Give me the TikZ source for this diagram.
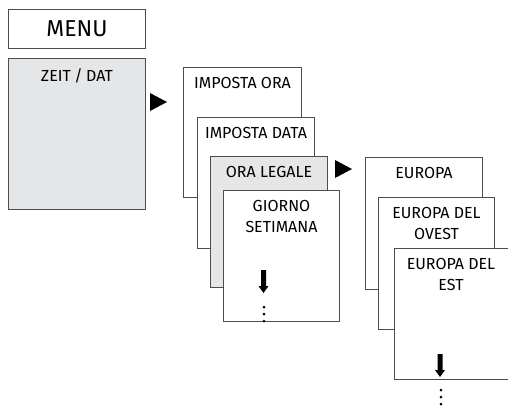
\documentclass[tikz,border=0pt]{standalone}
\usepackage{fontspec}
\setmainfont{Fira Sans}
\usetikzlibrary{calc}
\definecolor{panel}{HTML}{E5E6E8}
\tikzset{
	card/.style={draw=black!70, line width=1pt, fill=white, anchor=north west, inner sep=0pt},
	greycard/.style={card, fill=panel},
	caption/.style={anchor=north, align=center, inner sep=0pt, font=\fontsize{16}{21}\selectfont},
	dot/.style={circle, fill=black, inner sep=0pt, minimum size=3pt},
}
% block arrow pointing down, tip at #1
\newcommand{\downarrowblk}[1]{
	\fill ($(#1)+(-2.5,-23)$) -- ($(#1)+(2.5,-23)$) -- ($(#1)+(2.5,-7)$) -- ($(#1)+(5,-7)$)
		-- (#1) -- ($(#1)+(-5,-7)$) -- ($(#1)+(-2.5,-7)$) -- cycle;
}
\begin{document}
\begin{tikzpicture}[x=1pt, y=-1pt]
	\useasboundingbox (0,0) rectangle (508,405);
	
	% main menu
	\node[card, minimum width=137pt, minimum height=39pt] (menu) at (8,9) {};
	\node[font=\fontsize{23}{26}\selectfont] at (menu.center) {MENU};
	\node[greycard, minimum width=137pt, minimum height=151pt] (zeit) at (8,58) {};
	\node[caption] at ($(zeit.north)+(0,10)$) {ZEIT\hspace{3.5pt}/\hspace{3.5pt}DAT};
	\fill (150,93) -- (167,102) -- (150,111) -- cycle;
	
	% first stack
	\node[card, minimum width=118pt, minimum height=130pt] (ora) at (183,67) {};
	\node[caption] at ($(ora.north)+(0,10.5)$) {IMPOSTA ORA};
	\node[card, minimum width=117pt, minimum height=131pt] (data) at (197,117) {};
	\node[caption] at ($(data.north)+(0,10.5)$) {IMPOSTA DATA};
	\node[greycard, minimum width=117pt, minimum height=131pt] (legale) at (210,156) {};
	\node[caption] at ($(legale.north)+(0,10.5)$) {ORA LEGALE};
	\node[card, minimum width=116pt, minimum height=131pt] (giorno) at (223,190) {};
	\node[caption] at ($(giorno.north)+(0,10.5)$) {GIORNO\\SETIMANA};
	\coordinate (tipA) at (263.5,293);
	\downarrowblk{tipA}
	\node[dot] at (264,307) {};
	\node[dot] at (264,314) {};
	\node[dot] at (264,321) {};
	\fill (335,160) -- (352,169) -- (335,178) -- cycle;
	
	% second stack
	\node[card, minimum width=117pt, minimum height=132pt] (europa) at (365,157) {};
	\node[caption] at ($(europa.north)+(0,10.5)$) {EUROPA};
	\node[card, minimum width=116pt, minimum height=132pt] (ovest) at (378,197) {};
	\node[caption] at ($(ovest.north)+(0,10.5)$) {EUROPA DEL\\OVEST};
	\node[card, minimum width=114pt, minimum height=131pt] (est) at (393.5,248) {};
	\node[caption] at ($(est.north)+(0,10.5)$) {EUROPA DEL\\EST};
	\coordinate (tipB) at (440,377);
	\downarrowblk{tipB}
	\node[dot] at (441,390) {};
	\node[dot] at (441,397) {};
	\node[dot] at (441,404) {};
\end{tikzpicture}
\end{document}
